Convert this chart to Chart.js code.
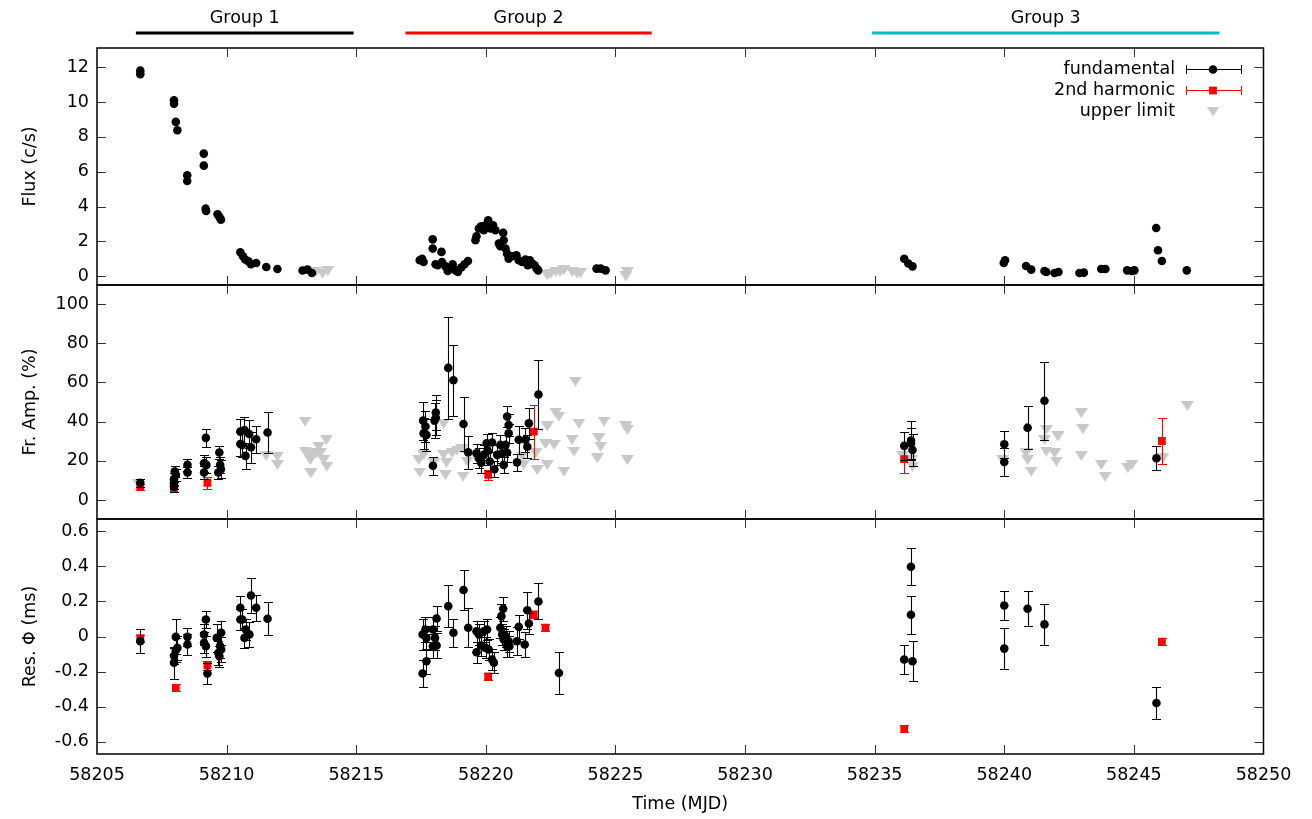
<!DOCTYPE html>
<html>
<head>
<meta charset="utf-8">
<script src="https://cdn.jsdelivr.net/npm/chart.js@4.4.1/dist/chart.umd.min.js"></script>
<style>
  body { margin: 0; background: #fff; }
  #wrap { position: relative; width: 1312px; height: 819px; }
  #wrap canvas { position: absolute; left: 0; top: 0; }
</style>
</head>
<body>
<div id="wrap">
  <canvas id="flux" width="1312" height="819"></canvas>
  <canvas id="amp" width="1312" height="819"></canvas>
  <canvas id="phase" width="1312" height="819"></canvas>
</div>
<script>
// ---- data (MJD, value, 1-sigma error) ----
const seriesNames = ['fundamental', '2nd harmonic', 'upper limit'];

const groupNames = ['Group 1', 'Group 2', 'Group 3'];
const groupStart = [58206.5, 58216.9, 58234.9];
const groupEnd = [58214.9, 58226.4, 58248.3];

// flux (c/s)
const fluxT = [58206.67, 58206.67, 58207.97, 58207.97, 58208.04, 58208.10, 58208.48, 58208.48, 58209.12, 58209.12,
  58209.19, 58209.21, 58209.65, 58209.72, 58209.78, 58210.53, 58210.63, 58210.72, 58210.84, 58210.94,
  58211.14, 58211.53, 58211.96, 58212.93, 58213.12, 58213.29,
  58217.45, 58217.54, 58217.60, 58217.95, 58217.95, 58218.06, 58218.14, 58218.29, 58218.31, 58218.44,
  58218.53, 58218.66, 58218.72, 58218.83, 58218.92, 58219.05, 58219.18, 58219.31, 58219.60, 58219.64,
  58219.73, 58219.82, 58219.92, 58219.99, 58220.09, 58220.18, 58220.28, 58220.37, 58220.50, 58220.56,
  58220.67, 58220.69, 58220.76, 58220.82, 58220.88, 58221.01, 58221.18, 58221.27, 58221.40, 58221.53,
  58221.62, 58221.70, 58221.79, 58221.88, 58221.96, 58222.02, 58224.27, 58224.43, 58224.62,
  58236.14, 58236.30, 58236.46, 58239.98, 58240.03, 58240.84, 58241.04, 58241.55, 58241.62, 58241.94,
  58242.09, 58242.90, 58243.07, 58243.74, 58243.90, 58244.74, 58244.92, 58245.02, 58245.86, 58245.93,
  58246.08, 58247.04];
const fluxV = [11.8, 11.6, 10.1, 9.9, 8.86, 8.38, 5.8, 5.47, 7.04, 6.35,
  3.88, 3.75, 3.56, 3.41, 3.25, 1.38, 1.15, 0.96, 0.86, 0.69,
  0.76, 0.53, 0.42, 0.33, 0.38, 0.19,
  0.92, 1.01, 0.82, 2.12, 1.59, 0.69, 0.63, 1.40, 0.82, 0.57,
  0.30, 0.50, 0.69, 0.34, 0.25, 0.50, 0.69, 0.88, 2.07, 2.30,
  2.74, 2.87, 2.64, 2.93, 3.21, 2.74, 2.93, 2.64, 1.88, 1.72,
  2.49, 2.07, 1.59, 1.30, 1.01, 1.15, 1.21, 0.92, 0.82, 0.96,
  0.63, 0.92, 0.73, 0.63, 0.44, 0.34, 0.44, 0.44, 0.34,
  1.01, 0.73, 0.57, 0.76, 0.92, 0.59, 0.38, 0.30, 0.25, 0.19,
  0.25, 0.19, 0.21, 0.42, 0.42, 0.34, 0.30, 0.34, 2.77, 1.49,
  0.88, 0.34];
const fluxLimT = [58213.45, 58213.70, 58213.90, 58222.37, 58222.50, 58222.69, 58222.86, 58223.01, 58223.33, 58223.52,
  58223.65, 58225.40, 58225.46];
const fluxLimV = [0.25, 0.15, 0.30, 0.06, 0.15, 0.25, 0.25, 0.34, 0.25, 0.15,
  0.19, 0.00, 0.25];

// fractional amplitude (%)
const ampT = [58206.67, 58207.97, 58207.97, 58207.97, 58208.00, 58208.04, 58208.49, 58208.49, 58209.20, 58209.13,
  58209.22, 58209.13, 58209.72, 58209.75, 58209.78, 58209.68, 58210.53, 58210.53, 58210.60, 58210.69,
  58210.73, 58210.87, 58210.94, 58211.14, 58211.58,
  58217.58, 58217.60, 58217.67, 58217.71, 58217.96, 58218.02, 58218.07, 58218.07, 58218.55, 58218.75,
  58219.14, 58219.32, 58219.64, 58219.73, 58219.82, 58219.92, 58220.03, 58220.07, 58220.15, 58220.24,
  58220.33, 58220.44, 58220.56, 58220.63, 58220.69, 58220.76, 58220.82, 58220.82, 58220.88, 58220.88,
  58221.20, 58221.27, 58221.53, 58221.60, 58221.66, 58222.03,
  58236.14, 58236.40, 58236.40, 58236.46, 58240.00, 58240.00, 58240.90, 58241.55, 58245.87];
const ampV = [8.8, 10.6, 8.5, 6.8, 14.5, 12.8, 17.9, 14.0, 31.7, 18.7,
  17.9, 14.0, 24.2, 17.9, 15.7, 14.0, 34.9, 28.6, 28.1, 35.7,
  22.5, 33.7, 26.9, 31.0, 34.4,
  40.5, 34.0, 37.5, 33.2, 17.5, 40.5, 44.6, 42.0, 67.4, 61.1,
  38.8, 24.3, 23.8, 21.3, 19.0, 23.0, 28.9, 25.2, 19.6, 29.3,
  15.7, 23.0, 28.1, 23.8, 17.9, 28.1, 24.2, 42.6, 38.3, 34.0,
  19.2, 30.7, 30.7, 27.2, 39.1, 53.8,
  27.6, 30.3, 28.9, 25.5, 28.4, 19.4, 36.9, 50.6, 21.3];
const ampErr = [2, 3, 3, 2.5, 3, 3, 3, 3, 4.7, 4.5,
  4, 3.5, 3.5, 4, 4.5, 3.5, 6.5, 6, 6, 6.5,
  6.5, 7, 8, 7, 10.5,
  9.7, 8, 8, 8, 4.5, 9, 9, 9, 26, 18,
  14, 8.5, 5, 5, 5, 5, 5, 5, 5, 5,
  4, 5, 5, 5, 4, 5, 5, 5.5, 5.5, 5,
  4.5, 7, 6, 6, 8, 17.5,
  7, 10, 8, 8, 7, 7, 11, 20, 6];
const ampHarmT = [58206.67, 58207.97, 58209.26, 58220.09, 58221.85, 58236.14, 58246.08];
const ampHarmV = [6.8, 5.5, 8.8, 12.8, 34.9, 20.9, 30.1];
const ampHarmErr = [1.5, 1.5, 3, 2.5, 13.8, 7, 11.5];
const ampLimT = [58206.60, 58211.52, 58211.96, 58211.96, 58213.03, 58213.03, 58213.20, 58213.23, 58213.25, 58213.46,
  58213.55, 58213.61, 58213.74, 58213.85, 58213.87,
  58217.41, 58217.45, 58217.60, 58217.99, 58218.37, 58218.37, 58218.48, 58218.44, 58218.70, 58218.89,
  58219.08, 58219.12, 58219.28, 58221.40, 58221.46, 58221.92, 58221.98, 58222.30, 58222.37, 58222.37,
  58222.63, 58222.69, 58222.82, 58223.01, 58223.33, 58223.40, 58223.46, 58223.59, 58224.30, 58224.36,
  58224.43, 58224.56, 58225.40, 58225.46, 58225.46,
  58236.08, 58236.43, 58236.46, 58239.94, 58240.84, 58240.90, 58241.04, 58241.55, 58241.62, 58241.62,
  58241.94, 58242.07, 58242.01, 58242.97, 58243.03, 58242.97, 58243.74, 58243.89, 58244.77, 58244.92,
  58246.12, 58247.06];
const ampLimV = [8.0, 22.5, 22.1, 17.9, 40.0, 24.7, 23.0, 20.4, 13.6, 23.8,
  27.2, 23.8, 20.4, 30.7, 17.0,
  20.4, 14.0, 23.0, 19.0, 38.8, 23.0, 19.0, 12.8, 23.8, 25.2,
  25.9, 11.9, 19.6, 22.1, 17.9, 23.8, 15.3, 28.6, 37.5, 17.9,
  28.1, 44.6, 42.6, 14.5, 30.7, 24.7, 60.4, 38.8, 21.3, 31.5,
  27.2, 40.0, 37.5, 35.8, 20.4,
  22.5, 20.5, 17.0, 20.4, 23.8, 20.4, 14.5, 30.7, 35.8, 24.7,
  23.8, 32.4, 19.6, 44.3, 36.1, 22.5, 17.9, 11.9, 16.2, 17.9,
  21.3, 48.0];

// phase residuals (ms)
const phaseT = [58206.67, 58207.97, 58207.97, 58208.04, 58208.10, 58208.04, 58208.49, 58208.49, 58209.20, 58209.13,
  58209.13, 58209.20, 58209.26, 58209.62, 58209.68, 58209.72, 58209.75, 58209.79, 58209.79, 58210.53,
  58210.53, 58210.60, 58210.69, 58210.74, 58210.88, 58210.94, 58211.14, 58211.58,
  58217.56, 58217.56, 58217.67, 58217.71, 58217.71, 58217.96, 58217.96, 58218.04, 58218.10, 58218.10,
  58218.55, 58218.75, 58219.14, 58219.32, 58219.64, 58219.64, 58219.73, 58219.82, 58219.92, 58219.99,
  58220.05, 58220.11, 58220.24, 58220.31, 58220.56, 58220.60, 58220.67, 58220.63, 58220.69, 58220.76,
  58220.82, 58220.88, 58220.91, 58221.20, 58221.27, 58221.50, 58221.60, 58221.66, 58222.03, 58222.82,
  58236.14, 58236.40, 58236.40, 58236.46, 58240.00, 58240.00, 58240.90, 58241.55, 58245.87];
const phaseV = [-0.027, -0.110, -0.150, -0.002, -0.065, -0.078, -0.002, -0.046, 0.097, 0.011,
  -0.036, -0.055, -0.211, -0.008, -0.094, -0.112, -0.055, 0.021, -0.074, 0.164,
  0.097, 0.097, -0.008, 0.040, 0.011, 0.234, 0.164, 0.101,
  -0.211, 0.011, 0.040, -0.008, -0.141, 0.040, -0.055, -0.008, -0.051, 0.103,
  0.173, 0.021, 0.265, 0.050, 0.030, -0.090, 0.011, -0.051, 0.030, -0.065,
  0.040, -0.074, -0.131, -0.150, 0.050, 0.116, 0.158, 0.011, -0.017, 0.002,
  -0.055, -0.027, -0.055, -0.027, 0.055, -0.046, 0.150, 0.074, 0.200, -0.208,
  -0.131, 0.398, 0.124, -0.141, 0.177, -0.069, 0.158, 0.069, -0.379];
const phaseErr = [0.067, 0.045, 0.09, 0.1, 0.07, 0.07, 0.05, 0.06, 0.05, 0.06,
  0.06, 0.06, 0.06, 0.08, 0.07, 0.06, 0.07, 0.07, 0.07, 0.065,
  0.06, 0.06, 0.055, 0.06, 0.07, 0.1, 0.075, 0.095,
  0.079, 0.088, 0.07, 0.07, 0.07, 0.07, 0.07, 0.07, 0.07, 0.07,
  0.12, 0.08, 0.115, 0.11, 0.06, 0.06, 0.06, 0.06, 0.06, 0.06,
  0.06, 0.06, 0.06, 0.06, 0.06, 0.07, 0.07, 0.06, 0.06, 0.06,
  0.06, 0.06, 0.06, 0.08, 0.07, 0.07, 0.105, 0.06, 0.103, 0.121,
  0.082, 0.105, 0.107, 0.114, 0.081, 0.117, 0.1, 0.119, 0.09];
const phaseHarmT = [58206.67, 58208.04, 58209.26, 58220.09, 58221.85, 58222.30, 58236.14, 58246.08];
const phaseHarmV = [-0.010, -0.293, -0.165, -0.227, 0.126, 0.050, -0.527, -0.030];
const phaseHarmErr = [0.02, 0.02, 0.025, 0.02, 0.02, 0.02, 0.02, 0.02];

// ---- styling ----
const FONT = { family: 'DejaVu Sans', size: 17.5 };
Chart.defaults.font.family = FONT.family;
Chart.defaults.font.size = FONT.size;
Chart.defaults.color = '#000';

const PLOT_LEFT = 97;
const PLOT_RIGHT_PAD = 48.5;

function makeTriangle(w, h, color) {
  const c = document.createElement('canvas');
  c.width = w; c.height = h;
  const g = c.getContext('2d');
  g.fillStyle = color;
  g.beginPath();
  g.moveTo(0, 0); g.lineTo(w, 0); g.lineTo(w / 2, h);
  g.closePath();
  g.fill();
  return c;
}
const triangle = makeTriangle(13, 10, 'rgb(200,200,200)');

function points(ts, vs) {
  return ts.map((t, i) => ({ x: t, y: vs[i] }));
}

function fundamental(ts, vs, errs) {
  return { label: seriesNames[0], data: points(ts, vs), errors: errs, barColor: '#000',
    pointStyle: 'circle', pointRadius: 4.3, backgroundColor: '#000', borderWidth: 0 };
}
function harmonic(ts, vs, errs) {
  return { label: seriesNames[1], data: points(ts, vs), errors: errs, barColor: '#f00',
    pointStyle: 'rect', pointRadius: 5.5, backgroundColor: '#f00', borderWidth: 0 };
}
function upperLimit(ts, vs) {
  return { label: seriesNames[2], data: points(ts, vs),
    pointStyle: triangle, pointRadius: 6, backgroundColor: 'rgb(200,200,200)', borderWidth: 0 };
}

// vertical error bars, drawn just before each dataset's markers
const errorBarPlugin = {
  id: 'errorBars',
  beforeDatasetDraw(chart, args) {
    const ds = chart.data.datasets[args.index];
    if (!ds.errors) return;
    const y = chart.scales.y, ctx = chart.ctx;
    ctx.save();
    ctx.strokeStyle = ds.barColor;
    ctx.lineWidth = 1.1;
    ctx.beginPath();
    args.meta.data.forEach((pt, i) => {
      const v = ds.data[i].y, e = ds.errors[i];
      const px = Math.round(pt.x) + 0.5;
      const top = Math.round(y.getPixelForValue(v + e)) + 0.5;
      const bot = Math.round(y.getPixelForValue(v - e)) + 0.5;
      ctx.moveTo(px, top); ctx.lineTo(px, bot);
      ctx.moveTo(px - 4.5, top); ctx.lineTo(px + 4.5, top);
      ctx.moveTo(px - 4.5, bot); ctx.lineTo(px + 4.5, bot);
    });
    ctx.stroke();
    ctx.restore();
  }
};

// gnuplot-like frame with inward, mirrored ticks
const framePlugin = {
  id: 'frame',
  afterDraw(chart) {
    const { ctx, chartArea: a, scales } = chart;
    const len = 9;
    ctx.save();
    ctx.strokeStyle = '#333';
    ctx.lineWidth = 1;
    ctx.beginPath();
    scales.x.ticks.forEach(t => {
      const px = Math.round(scales.x.getPixelForValue(t.value)) + 0.5;
      if (px < a.left + 2 || px > a.right - 2) return;
      ctx.moveTo(px, a.bottom); ctx.lineTo(px, a.bottom - len);
      ctx.moveTo(px, a.top); ctx.lineTo(px, a.top + len);
    });
    scales.y.ticks.forEach(t => {
      const py = Math.round(scales.y.getPixelForValue(t.value)) + 0.5;
      ctx.moveTo(a.left, py); ctx.lineTo(a.left + len, py);
      ctx.moveTo(a.right, py); ctx.lineTo(a.right - len, py);
    });
    ctx.stroke();
    ctx.strokeStyle = '#000';
    ctx.lineWidth = 1.5;
    ctx.strokeRect(a.left, a.top, a.right - a.left, a.bottom - a.top);
    ctx.restore();
  }
};

// group bars above the top panel
const groupColors = ['#000', '#ff0000', '#00bfbf'];
const groupPlugin = {
  id: 'groups',
  afterDraw(chart) {
    const { ctx, scales: { x } } = chart;
    ctx.save();
    ctx.font = FONT.size + 'px ' + FONT.family;
    ctx.textAlign = 'center';
    ctx.textBaseline = 'middle';
    groupNames.forEach((name, i) => {
      const x1 = x.getPixelForValue(groupStart[i]), x2 = x.getPixelForValue(groupEnd[i]);
      ctx.strokeStyle = groupColors[i];
      ctx.lineWidth = 3;
      ctx.beginPath();
      ctx.moveTo(x1, 33); ctx.lineTo(x2, 33);
      ctx.stroke();
      ctx.fillStyle = '#000';
      ctx.fillText(name, (x1 + x2) / 2, 18);
    });
    ctx.restore();
  }
};

// key in the top-right corner of the top panel
const keyPlugin = {
  id: 'key',
  afterDraw(chart) {
    const { ctx, chartArea: a } = chart;
    const textRight = a.right - 88.5, s1 = Math.round(a.right - 77.5) + 0.5, s2 = Math.round(a.right - 22.5) + 0.5;
    const mx = a.right - 50.5;
    const colors = ['#000', '#f00', null];
    ctx.save();
    ctx.font = FONT.size + 'px ' + FONT.family;
    ctx.textAlign = 'right';
    ctx.textBaseline = 'middle';
    seriesNames.forEach((name, i) => {
      const y = Math.round(a.top + 21 + i * 21) + 0.5;
      ctx.fillStyle = '#000';
      ctx.fillText(name, textRight, y);
      if (colors[i]) {
        ctx.strokeStyle = colors[i];
        ctx.lineWidth = 1;
        ctx.beginPath();
        ctx.moveTo(s1, y); ctx.lineTo(s2, y);
        ctx.moveTo(s1, y - 4.5); ctx.lineTo(s1, y + 4.5);
        ctx.moveTo(s2, y - 4.5); ctx.lineTo(s2, y + 4.5);
        ctx.stroke();
        ctx.fillStyle = colors[i];
        ctx.beginPath();
        if (i === 0) ctx.arc(mx, y, 4.3, 0, Math.PI * 2);
        else ctx.rect(mx - 3.9, y - 3.9, 7.8, 7.8);
        ctx.fill();
      } else {
        ctx.drawImage(triangle, mx - triangle.width / 2, y - triangle.height / 2);
      }
    });
    ctx.restore();
  }
};

function makePanel(id, cfg) {
  return new Chart(document.getElementById(id), {
    type: 'scatter',
    data: { datasets: cfg.datasets },
    options: {
      responsive: false,
      animation: false,
      events: [],
      layout: { padding: { left: 0, right: PLOT_RIGHT_PAD, top: cfg.top, bottom: cfg.bottom } },
      plugins: { legend: { display: false }, tooltip: { enabled: false } },
      scales: {
        x: {
          type: 'linear', min: 58205, max: 58250,
          grid: { display: false, drawTicks: false },
          border: { display: false },
          ticks: { stepSize: 5, display: cfg.showX, padding: 11, maxRotation: 0, autoSkip: false,
            includeBounds: false, callback: v => String(v) },
          title: { display: cfg.showX, text: 'Time (MJD)', padding: { top: 0, bottom: 4 } },
          afterFit: s => { s.height = cfg.xHeight; }
        },
        y: {
          type: 'linear', min: cfg.yMin, max: cfg.yMax,
          grid: { display: false, drawTicks: false },
          border: { display: false },
          ticks: { stepSize: cfg.yStep, padding: 8, includeBounds: false,
            callback: v => String(Math.round(v * 10) / 10) },
          title: { display: true, text: cfg.yTitle, padding: { top: 20, bottom: 0 } },
          afterFit: s => { s.width = PLOT_LEFT; }
        }
      }
    },
    plugins: [errorBarPlugin, framePlugin].concat(cfg.extra || [])
  });
}

makePanel('flux', {
  datasets: [fundamental(fluxT, fluxV, null), upperLimit(fluxLimT, fluxLimV)],
  top: 48, bottom: 819 - 285, xHeight: 0, showX: false,
  yMin: -0.5, yMax: 13.1, yStep: 2, yTitle: 'Flux (c/s)',
  extra: [groupPlugin, keyPlugin]
});

makePanel('amp', {
  datasets: [fundamental(ampT, ampV, ampErr), harmonic(ampHarmT, ampHarmV, ampHarmErr), upperLimit(ampLimT, ampLimV)],
  top: 285, bottom: 819 - 519, xHeight: 0, showX: false,
  yMin: -9.7, yMax: 109.7, yStep: 20, yTitle: 'Fr. Amp. (%)'
});

makePanel('phase', {
  datasets: [fundamental(phaseT, phaseV, phaseErr), harmonic(phaseHarmT, phaseHarmV, phaseHarmErr)],
  top: 519, bottom: 0, xHeight: 65, showX: true,
  yMin: -0.67, yMax: 0.67, yStep: 0.2, yTitle: 'Res. Φ (ms)'
});
</script>
</body>
</html>
